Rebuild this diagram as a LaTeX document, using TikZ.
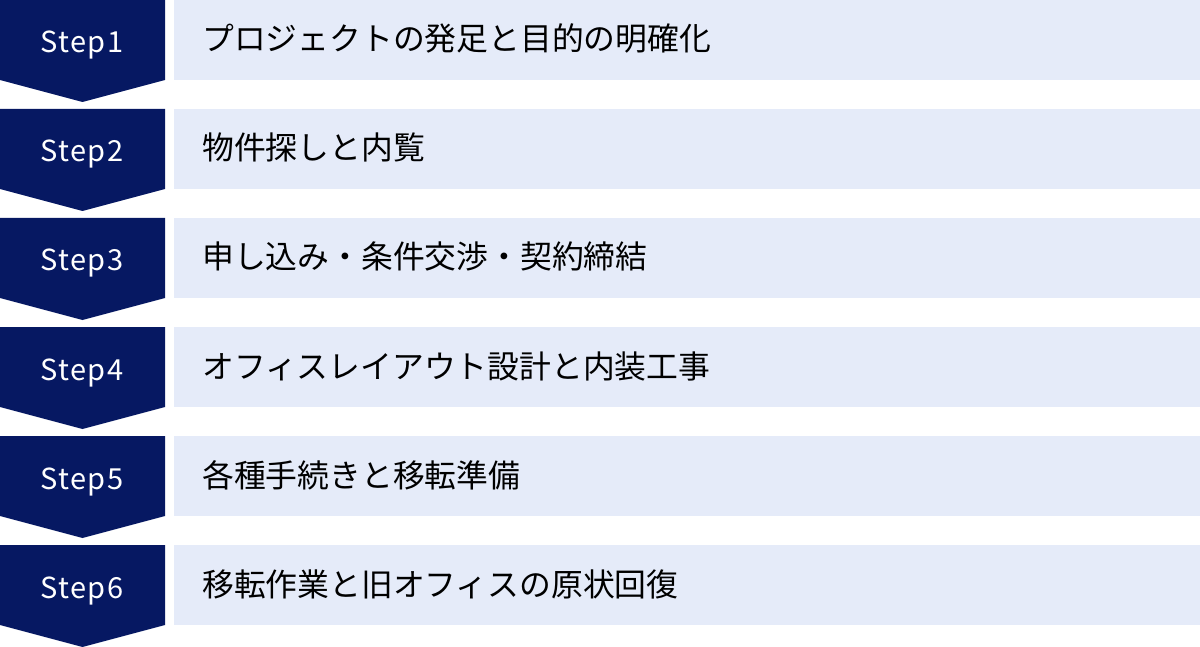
\documentclass[tikz,border=0pt]{standalone}
\usepackage{fontspec}
\setmainfont{Noto Sans}
\newfontfamily\jpfont{Noto Sans CJK JP}
\newfontfamily\stepfont[LetterSpace=5]{Noto Sans CJK JP}
\definecolor{navy}{RGB}{6,24,98}
\definecolor{lightbg}{RGB}{229,235,249}
\tikzset{
  chevron/.style={fill=navy},
  boxbg/.style={fill=lightbg},
  steplbl/.style={text=white, inner sep=0pt, anchor=base, font=\stepfont\fontsize{29}{32}\selectfont},
  maintxt/.style={text=black, inner sep=0pt, anchor=base west, font=\jpfont\fontsize{31.8}{34}\selectfont},
}
\begin{document}
\begin{tikzpicture}[x=1pt,y=-1pt]
\useasboundingbox (0,0) rectangle (1200,647);
\foreach \i/\t in {1/プロジェクトの発足と目的の明確化,2/物件探しと内覧,3/申し込み・条件交渉・契約締結,4/オフィスレイアウト設計と内装工事,5/各種手続きと移転準備,6/移転作業と旧オフィスの原状回復} {
  \pgfmathsetmacro\rowy{(\i-1)*109}
  \fill[chevron] (0,\rowy) -- (165,\rowy) -- (165,\rowy+80) -- (82.5,\rowy+102) -- (0,\rowy+80) -- cycle;
  \fill[boxbg] (174,\rowy) rectangle (1200,\rowy+80);
  \node[steplbl] (s\i) at (82,\rowy+53) {Step\i};
  \node[maintxt] (t\i) at (202,\rowy+51) {\t};
}
\end{tikzpicture}
\end{document}
